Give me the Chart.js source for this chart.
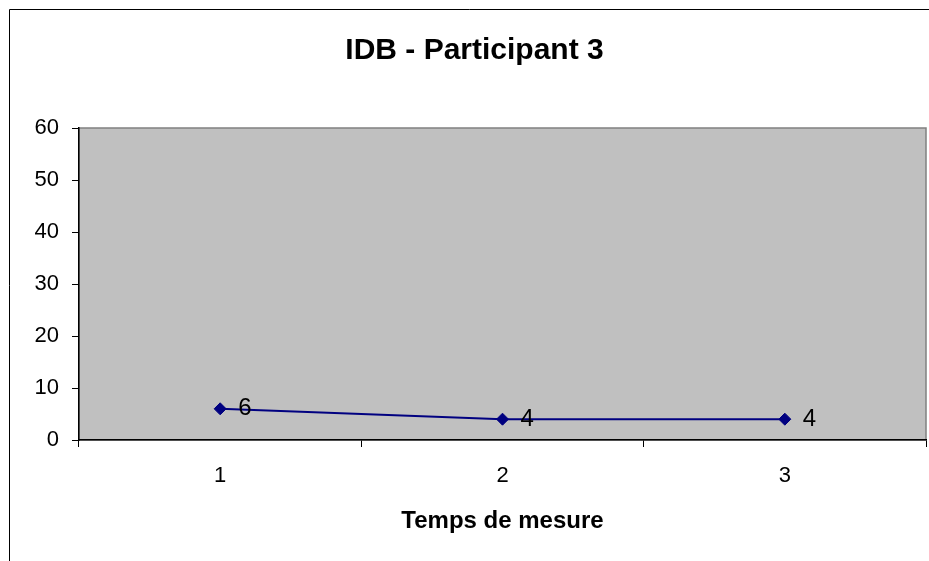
<!DOCTYPE html>
<html>
<head>
<meta charset="utf-8">
<script src="https://cdn.jsdelivr.net/npm/chart.js@4/dist/chart.umd.min.js"></script>
<style>
  html, body { margin: 0; padding: 0; background: #fff; }
  #wrap { position: relative; width: 929px; height: 561px; }
</style>
</head>
<body>
<div id="wrap"><canvas id="c" width="929" height="561"></canvas></div>
<script>
const chartTitle = "IDB - Participant 3";
const xAxisTitle = "Temps de mesure";
const categories = ["1", "2", "3"];
const seriesValues = [6, 4, 4];
const yTickMin = 0;
const yTickMax = 60;
const yTickStep = 10;

const FONT = "'Liberation Sans', Arial, sans-serif";

const framePlugin = {
  id: 'frame',
  beforeDraw(chart) {
    const { ctx, chartArea: a } = chart;
    ctx.save();
    ctx.fillStyle = '#ffffff';
    ctx.fillRect(0, 0, chart.width, chart.height);
    ctx.strokeStyle = '#000000';
    ctx.lineWidth = 1;
    ctx.beginPath();
    ctx.moveTo(9.5, chart.height);
    ctx.lineTo(9.5, 9.5);
    ctx.lineTo(chart.width, 9.5);
    ctx.stroke();
    ctx.fillStyle = '#C0C0C0';
    ctx.fillRect(a.left, a.top, a.right - a.left, a.bottom - a.top);
    ctx.strokeStyle = '#808080';
    ctx.lineWidth = 1.5;
    ctx.strokeRect(a.left, a.top, a.right - a.left, a.bottom - a.top);
    ctx.restore();
  }
};

const labelPlugin = {
  id: 'pointLabels',
  afterDatasetsDraw(chart) {
    const { ctx } = chart;
    ctx.save();
    ctx.font = '24px ' + FONT;
    ctx.fillStyle = '#000000';
    ctx.textAlign = 'left';
    ctx.textBaseline = 'middle';
    chart.data.datasets.forEach((ds, di) => {
      const meta = chart.getDatasetMeta(di);
      meta.data.forEach((pt, i) => {
        ctx.fillText(String(ds.data[i]), pt.x + 18, pt.y);
      });
    });
    ctx.restore();
  }
};

new Chart(document.getElementById('c'), {
  type: 'line',
  data: {
    labels: categories,
    datasets: [{
      data: seriesValues,
      borderColor: '#000080',
      backgroundColor: '#000080',
      borderWidth: 2,
      pointStyle: 'rectRot',
      pointRadius: 6,
      pointHoverRadius: 6,
      pointBackgroundColor: '#000080',
      pointBorderColor: '#000080',
      pointBorderWidth: 1,
      tension: 0,
      fill: false
    }]
  },
  options: {
    responsive: false,
    animation: false,
    devicePixelRatio: 1,
    layout: { autoPadding: false, padding: { left: 23, right: 3, top: 0, bottom: 0 } },
    plugins: {
      legend: { display: false },
      tooltip: { enabled: false },
      title: {
        display: true,
        text: chartTitle,
        color: '#000000',
        font: { family: FONT, size: 30, weight: 'bold' },
        padding: { top: 33, bottom: 59 }
      }
    },
    scales: {
      x: {
        type: 'category',
        offset: true,
        grid: {
          offset: true,
          drawOnChartArea: false,
          drawTicks: true,
          tickLength: 7,
          color: '#000000'
        },
        border: { display: true, color: '#000000', width: 1.5 },
        ticks: {
          color: '#000000',
          font: { family: FONT, size: 22 },
          padding: 16,
          maxRotation: 0
        },
        title: {
          display: true,
          text: xAxisTitle,
          color: '#000000',
          font: { family: FONT, size: 24, weight: 'bold' },
          padding: { top: 0, bottom: 25 }
        },
        afterFit(scale) {
          scale.height = 121;
          scale.paddingLeft = 0;
          scale.paddingRight = 0;
        }
      },
      y: {
        min: yTickMin,
        max: yTickMax,
        grid: {
          drawOnChartArea: false,
          drawTicks: true,
          tickLength: 7,
          color: '#000000'
        },
        border: { display: true, color: '#000000', width: 1.5 },
        ticks: {
          stepSize: yTickStep,
          color: '#000000',
          font: { family: FONT, size: 22 },
          padding: 13
        },
        afterFit(scale) { scale.width = 56; }
      }
    }
  },
  plugins: [framePlugin, labelPlugin]
});
</script>
</body>
</html>
